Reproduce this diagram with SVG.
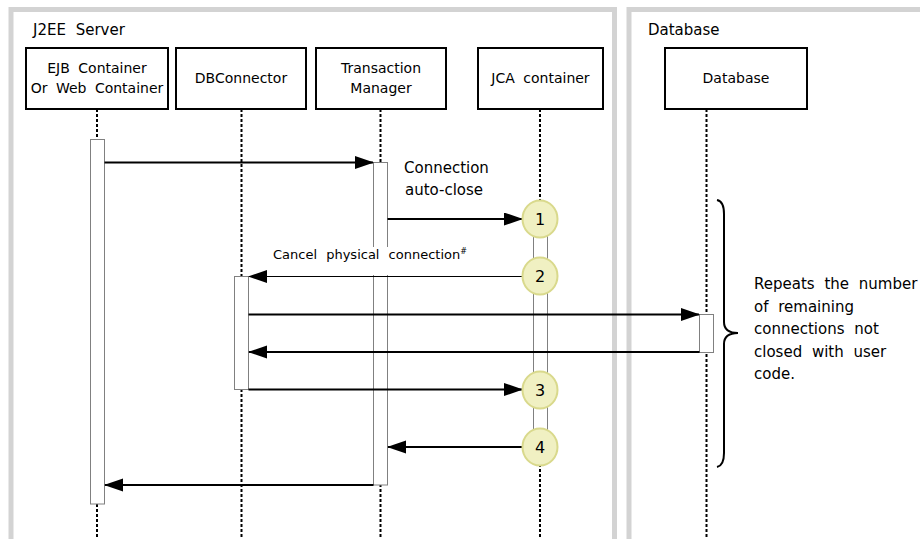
<svg xmlns="http://www.w3.org/2000/svg" width="920" height="539" viewBox="0 0 920 539">
<style>
text{font-family:"DejaVu Sans","Liberation Sans",sans-serif;fill:#000}
.frame{fill:none;stroke:#d3d3d3;stroke-width:5}
.box{fill:#fff;stroke:#000;stroke-width:2}
.lbl{font-size:14px;text-anchor:middle;word-spacing:4px}
.plbl{font-size:15px;word-spacing:5px}
.life{stroke:#000;stroke-width:2;stroke-dasharray:3 2;fill:none}
.act{fill:#fff;stroke:#808080;stroke-width:1}
.msg{stroke:#000;stroke-width:2;fill:none;marker-end:url(#ah)}
.msgt{stroke:#000;stroke-width:1;fill:none;marker-end:url(#ah)}
.step{fill:#f0f0c2;stroke:#d9d98c;stroke-width:2}
.num{font-size:16px;text-anchor:middle}
</style>
<defs>
<marker id="ah" markerUnits="userSpaceOnUse" markerWidth="20" markerHeight="14" refX="18" refY="6.5" orient="auto">
<path d="M0,0 L19,6.5 L0,13 z" fill="#000"/>
</marker>
</defs>
<rect width="920" height="539" fill="#fff"/>
<g id="frame-j2ee">
<rect class="frame" x="11" y="9.5" width="603.5" height="600"/>
<text class="plbl" x="33" y="35">J2EE Server</text>
</g>
<g id="frame-database">
<rect class="frame" x="629" y="9.5" width="400" height="600"/>
<text class="plbl" x="648" y="35">Database</text>
</g>
<g id="lifelines">
<line class="life" x1="97" y1="109" x2="97" y2="539"/>
<line class="life" x1="241.5" y1="109" x2="241.5" y2="539"/>
<line class="life" x1="380.5" y1="109" x2="380.5" y2="539"/>
<line class="life" x1="540" y1="109" x2="540" y2="539"/>
<line class="life" x1="706.5" y1="109" x2="706.5" y2="539"/>
</g>
<g id="node-ejb">
<rect class="box" x="26" y="48" width="142" height="61"/>
<text class="lbl" x="97" y="73">EJB Container</text>
<text class="lbl" x="97" y="93">Or Web Container</text>
</g>
<g id="node-dbconnector">
<rect class="box" x="176" y="48" width="130" height="61"/>
<text class="lbl" x="241" y="83">DBConnector</text>
</g>
<g id="node-tm">
<rect class="box" x="316" y="48" width="130" height="61"/>
<text class="lbl" x="381" y="73">Transaction</text>
<text class="lbl" x="381" y="93">Manager</text>
</g>
<g id="node-jca">
<rect class="box" x="478" y="48" width="125" height="61"/>
<text class="lbl" x="540.5" y="83">JCA container</text>
</g>
<g id="node-db">
<rect class="box" x="665" y="48" width="142" height="61"/>
<text class="lbl" x="736" y="83">Database</text>
</g>
<g id="activations">
<rect class="act" x="90.5" y="139.5" width="14" height="364.5"/>
<rect class="act" x="373.5" y="162.5" width="14" height="322.5"/>
<rect class="act" x="234.5" y="276.5" width="14" height="113"/>
<rect class="act" x="533.5" y="219" width="14" height="228"/>
<rect class="act" x="699.5" y="314.5" width="14" height="38"/>
</g>
<g id="label-cancel">
<rect x="268" y="247" width="205" height="28" fill="#fff"/>
<text x="273" y="259" font-size="13" style="word-spacing:5px">Cancel physical connection<tspan font-size="8" dy="-5">#</tspan></text>
</g>
<g id="connectors">
<line class="msg" x1="104.5" y1="162.5" x2="373" y2="162.5"/>
<line class="msg" x1="387.5" y1="219" x2="522" y2="219"/>
<line class="msgt" x1="522" y1="276.5" x2="249" y2="276.5"/>
<line class="msg" x1="248.5" y1="314.5" x2="699" y2="314.5"/>
<line class="msg" x1="699.5" y1="352" x2="249" y2="352"/>
<line class="msg" x1="248.5" y1="389.5" x2="522" y2="389.5"/>
<line class="msg" x1="522" y1="447" x2="388" y2="447"/>
<line class="msg" x1="373.5" y1="485" x2="105" y2="485"/>
</g>
<g id="step-1">
<ellipse class="step" cx="540" cy="219" rx="17.5" ry="18.5"/>
<text class="num" x="540" y="225">1</text>
</g>
<g id="step-2">
<ellipse class="step" cx="540" cy="276" rx="17.5" ry="18.5"/>
<text class="num" x="540" y="282">2</text>
</g>
<g id="step-3">
<ellipse class="step" cx="540" cy="390" rx="17.5" ry="18.5"/>
<text class="num" x="540" y="396">3</text>
</g>
<g id="step-4">
<ellipse class="step" cx="540" cy="447" rx="17.5" ry="18.5"/>
<text class="num" x="540" y="453">4</text>
</g>
<g id="label-autoclose">
<text x="404" y="173" font-size="15">Connection</text>
<text x="405" y="195" font-size="15">auto-close</text>
</g>
<g id="brace-note">
<path d="M717,200 C722,201 724,205 724,214 L724,322 C724,329 728,333 738,333 C728,333 724,337 724,344 L724,453 C724,462 722,466 717,467" fill="none" stroke="#000" stroke-width="2"/>
<text font-size="15" style="word-spacing:5px">
<tspan x="754" y="289">Repeats the number</tspan>
<tspan x="754" y="311.5">of remaining</tspan>
<tspan x="754" y="334">connections not</tspan>
<tspan x="754" y="356.5">closed with user</tspan>
<tspan x="754" y="379">code.</tspan>
</text>
</g>
</svg>
